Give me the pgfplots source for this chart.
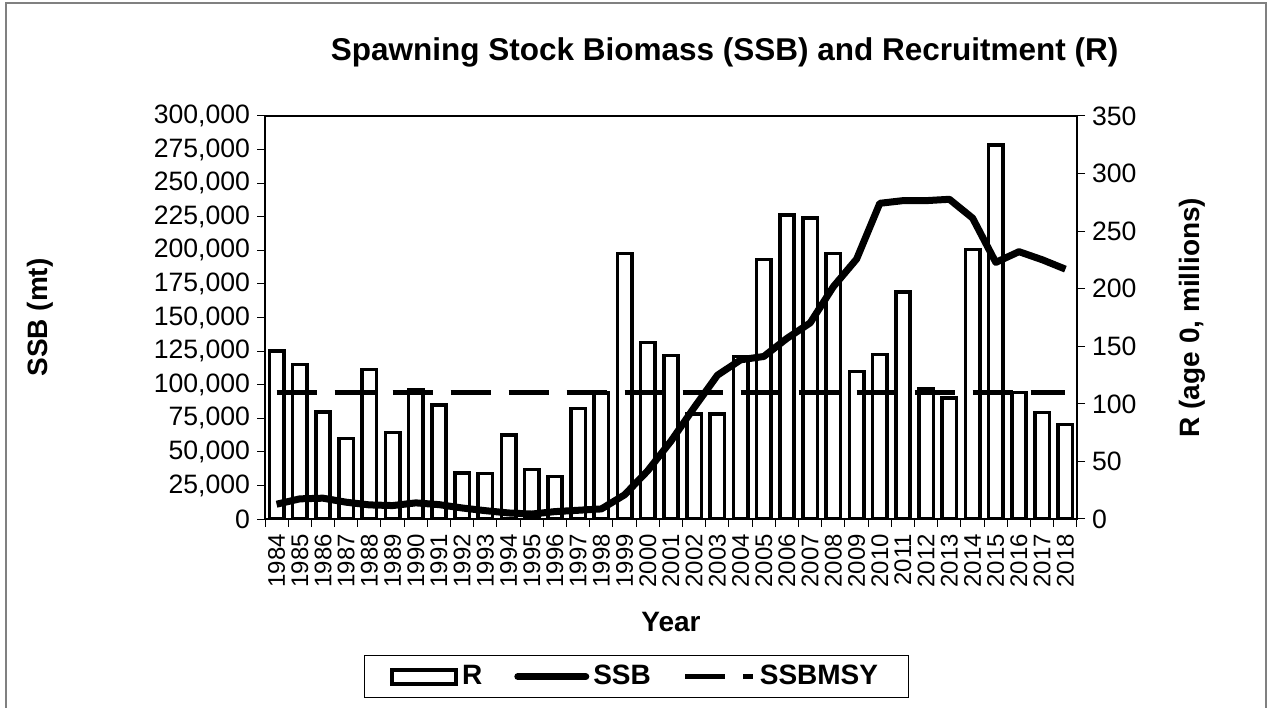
\documentclass[border=0pt]{standalone}
\usepackage{fontspec}
\setmainfont{Liberation Sans}
\usepackage{pgfplots}
\pgfplotsset{compat=1.18}
\pgfplotstableread{
year R
1984 146
1985 134
1986 93
1987 70
1988 130
1989 75
1990 112
1991 99
1992 40
1993 39.5
1994 73
1995 43
1996 37
1997 96
1998 109.5
1999 230.5
2000 153.5
2001 142
2002 91
2003 91
2004 141
2005 225.5
2006 264
2007 261.5
2008 230.5
2009 128
2010 143
2011 197
2012 113
2013 105
2014 234
2015 325
2016 110
2017 92.5
2018 82
}\Rdata
\pgfplotstableread{
year SSB
1984 11000
1985 15000
1986 15500
1987 12500
1988 10500
1989 10000
1990 12000
1991 10700
1992 8200
1993 6200
1994 4500
1995 3700
1996 5500
1997 6500
1998 7500
1999 18000
2000 36000
2001 58000
2002 83000
2003 107000
2004 118500
2005 121000
2006 134500
2007 146000
2008 173000
2009 193500
2010 235000
2011 237000
2012 237000
2013 238000
2014 224000
2015 191000
2016 199000
2017 193000
2018 186000
}\SSBdata
\pgfplotstableread{
year MSY
1984 94000
2018 94000
}\MSYdata
\begin{document}
\begin{tikzpicture}
\useasboundingbox (0,0) rectangle (633.5bp,354bp);
\draw[gray, line width=1bp] (3bp,-5bp) -- (3bp,352.5bp) -- (633bp,352.5bp) -- (633bp,-5bp);
\pgfplotsset{base/.style={
  scale only axis, width=406bp, height=201.5bp,
  at={(132.5bp,94.5bp)}, anchor=south west,
  xmin=1983.5, xmax=2018.5,
  tick align=outside,
  major tick length=4bp, minor tick length=4bp,
  tick style={black, line width=0.5bp},
  /pgf/number format/assume math mode=true,
  yticklabel style={font=\fontsize{13.3bp}{15bp}\selectfont},
  label style={font=\bfseries\fontsize{14bp}{16bp}\selectfont},
}}
\begin{axis}[base,
  ymin=0, ymax=350,
  ytick={0,50,...,350},
  ytick pos=right, yticklabel pos=right,
  xtick={1984,...,2018},
  xtick pos=left,
  xticklabel style={rotate=90, anchor=east, font=\fontsize{12bp}{14bp}\selectfont, /pgf/number format/1000 sep={}},
  major x tick style={draw=none},
  minor xtick={1983.5,1984.5,...,2018.5},
  axis line style={black, line width=0.8bp},
  xlabel={Year},
  xlabel style={at={(axis description cs:0.5,-0.2556)}, anchor=center},
  ylabel={R (age 0, millions)},
  ylabel style={at={(axis description cs:1.1416,0.5)}, anchor=center, rotate=0},
]
\addplot[ybar, bar width=0.62, fill=white, draw=black, line width=1.75bp] table[x=year, y=R] {\Rdata};
\end{axis}
\begin{axis}[base,
  ymin=0, ymax=300000,
  ytick={0,25000,...,300000},
  scaled y ticks=false,
  yticklabel style={/pgf/number format/.cd, fixed, 1000 sep={,}},
  axis y line*=left, axis x line=none,
  axis line style={black, line width=0.8bp},
  ylabel={SSB (mt)},
  ylabel style={at={(axis description cs:-0.277,0.5)}, anchor=center},
  title={Spawning Stock Biomass (SSB) and Recruitment (R)},
  title style={at={(axis description cs:0.566,1.127)}, anchor=center, font=\bfseries\fontsize{15.75bp}{18bp}\selectfont},
  legend columns=3,
  legend cell align=left,
  legend style={at={(axis description cs:0.457,-0.391)}, anchor=center, draw=black, line width=0.5bp,
    font=\bfseries\fontsize{14bp}{16bp}\selectfont,
    /tikz/every even column/.append style={column sep=14bp},
    inner xsep=13bp, inner ysep=3bp},
]
\addlegendimage{legend image code/.code={\draw[black, line width=2bp, fill=white] (0bp,-3.5bp) rectangle (32bp,3.5bp);}}
\addlegendentry{R}
\addplot[black, line width=3.5bp, line join=round,
  legend image code/.code={\draw[black, line width=3.5bp, line cap=round] (0bp,0bp) -- (34bp,0bp);}] table[x=year, y=SSB] {\SSBdata};
\addlegendentry{SSB}
\addplot[black, line width=2.5bp, dash pattern=on 20bp off 9bp,
  legend image code/.code={\draw[black, line width=2.5bp, dash pattern=on 20bp off 9bp] (0bp,0bp) -- (34bp,0bp);}] table[x=year, y=MSY] {\MSYdata};
\addlegendentry{SSBMSY}
\end{axis}
\end{tikzpicture}
\end{document}
